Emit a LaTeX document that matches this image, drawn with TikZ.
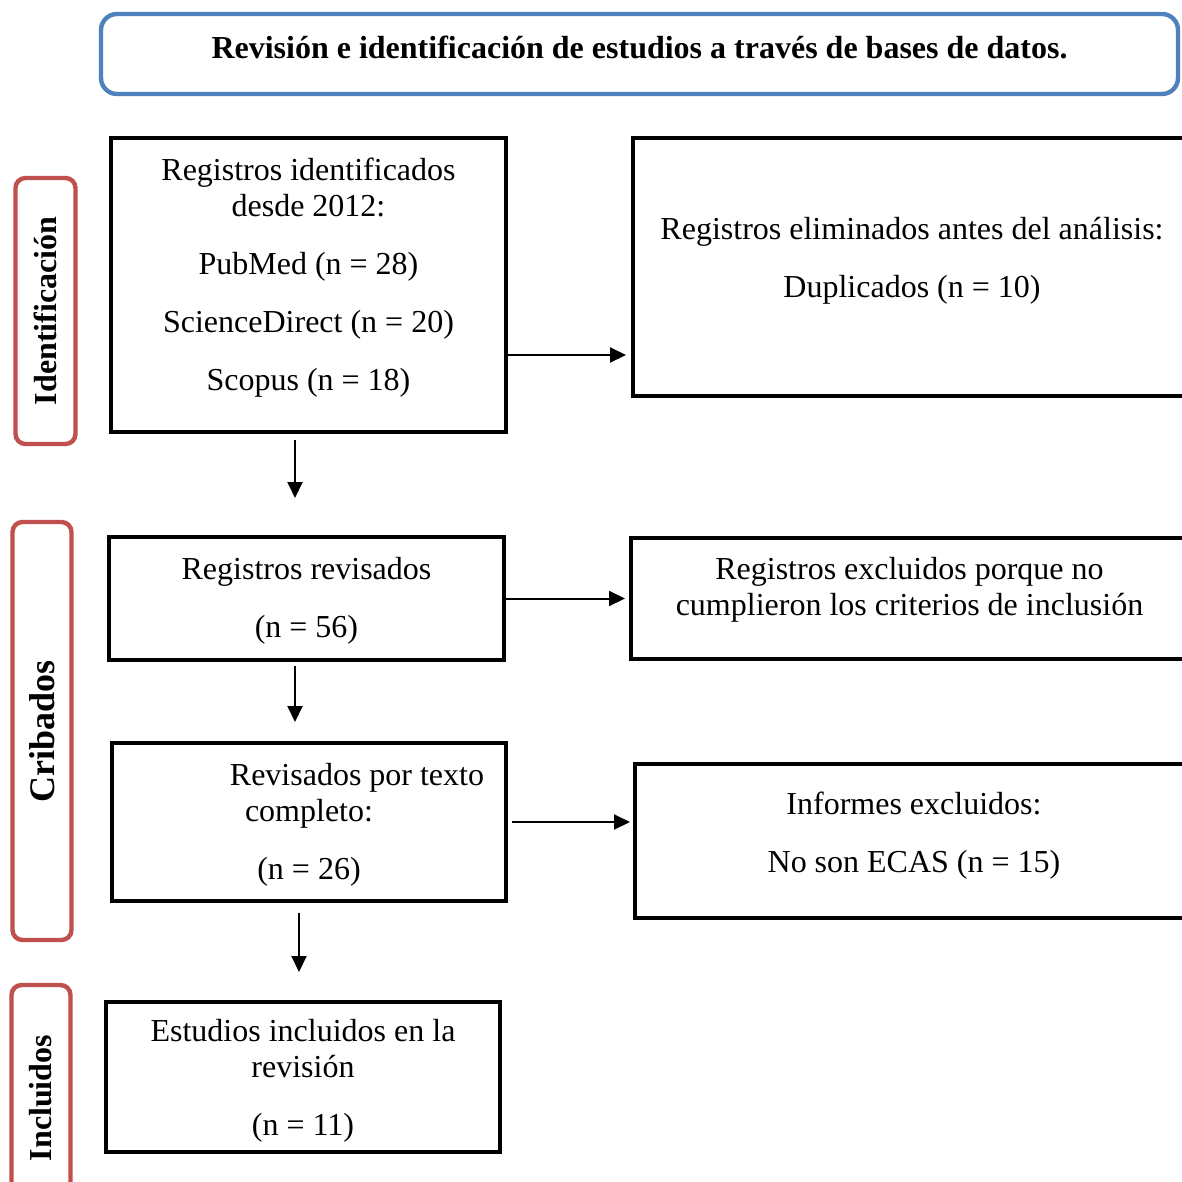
\documentclass[tikz,border=0pt]{standalone}
\usepackage{fontspec}
\setmainfont{Liberation Serif}
\usetikzlibrary{arrows.meta,positioning}
\definecolor{frameblue}{HTML}{4F81BD}
\definecolor{phasered}{HTML}{C0504D}
\newcommand{\bodyfont}{\fontsize{16}{18}\selectfont}
\tikzset{
  stagebox/.style={rectangle, draw=black, line width=2pt, fill=white, align=center,
                   inner sep=0pt, font=\bodyfont},
  headbox/.style={rectangle, rounded corners=8pt, draw=frameblue, line width=2.2pt,
                  fill=white, align=center, inner sep=0pt, font=\bodyfont\bfseries},
  phasebox/.style={rectangle, rounded corners=5pt, draw=phasered, line width=2.2pt,
                   fill=white, rotate=90, inner sep=0pt, font=\bodyfont\bfseries},
  flow/.style={-{Triangle[length=8pt,width=7.5pt]}, draw=black, line width=1pt}
}

\begin{document}
\begin{tikzpicture}[x=0.5pt, y=-0.5pt]
   \clip (0,0) rectangle (1182,1182);
   \fill[white] (0,0) rectangle (1182,1182);
   % title
   \node[headbox, minimum width=538.5pt, minimum height=40pt, text depth=7pt] (head) at (639.5,54) {Revisión e identificación de estudios a través de bases de datos.};
   % phases
   \node[phasebox, minimum width=133pt, minimum height=30pt] (idf) at (45.5,311) {Identificación};
   \node[phasebox, minimum width=209pt, minimum height=29.5pt, font=\fontsize{18}{20}\selectfont\bfseries] (crib) at (42,731) {Cribados};
   \node[phasebox, minimum width=113pt, minimum height=29.5pt] (incl) at (41,1098) {Incluidos};
   % main column
   \node[stagebox, minimum width=197.5pt, minimum height=147pt, text depth=11pt] (b1) at (308.5,285) {Registros identificados\\desde 2012:\\[11pt]PubMed (n = 28)\\[11pt]ScienceDirect (n = 20)\\[11pt]Scopus (n = 18)};
   \node[stagebox, minimum width=197.5pt, minimum height=61.5pt, text depth=1pt] (b3) at (306.5,598.5) {Registros revisados\\[11pt](n = 56)};
   \node[stagebox, minimum width=197pt, minimum height=79pt, text depth=1pt] (b5) at (309,822) {\hspace*{48pt}Revisados por texto\\completo:\\[11pt](n = 26)};
   \node[stagebox, minimum width=197pt, minimum height=75pt, text depth=0pt] (b7) at (303,1077) {Estudios incluidos en la\\revisión\\[11pt](n = 11)};
   % exclusions
   \node[stagebox, minimum width=279pt, minimum height=129pt, text depth=9.5pt, right=61.5pt of b1.north east, anchor=north west] (b2) {Registros eliminados antes del análisis:\\[11pt]Duplicados (n = 10)};
   \node[stagebox, minimum width=278.5pt, minimum height=60.5pt, text depth=12pt, right=61.5pt of b3] (b4) {Registros excluidos porque no\\cumplieron los criterios de inclusión};
   \node[stagebox, minimum width=279pt, minimum height=77pt, text depth=9pt] (b6) at (914,841) {Informes excluidos:\\[11pt]No son ECAS (n = 15)};
   % arrows
   \coordinate (a1) at ([yshift=-35pt]b1.east);
   \draw[flow, shorten >=2.5pt] (a1) -- (a1 -| b2.west);
   \draw[flow, shorten >=2pt] (b3.east) -- (b3.east -| b4.west);
   \draw[flow, shorten <=2pt, shorten >=1.5pt] (b5.east) -- (b5.east -| b6.west);
   \coordinate (d1) at ([xshift=-6.75pt]b1.south);
   \draw[flow, shorten <=3pt, shorten >=18.5pt] (d1) -- (d1 |- b3.north);
   \coordinate (d2) at ([xshift=-5.75pt]b3.south);
   \draw[flow, shorten <=2pt, shorten >=9.5pt] (d2) -- (d2 |- b5.north);
   \coordinate (d3) at ([xshift=-5pt]b5.south);
   \draw[flow, shorten <=5pt, shorten >=14pt] (d3) -- (d3 |- b7.north);
  \end{tikzpicture}
\end{document}
